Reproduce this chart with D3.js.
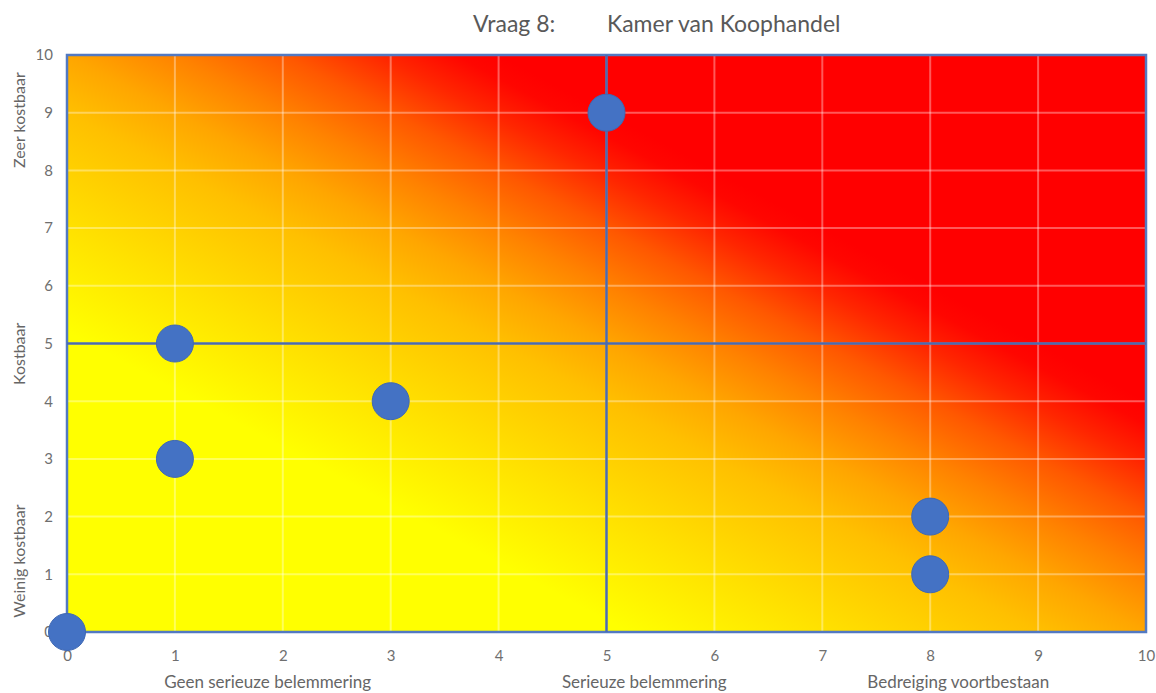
<!DOCTYPE html>
<html>
<head>
<meta charset="utf-8">
<script src="https://cdn.jsdelivr.net/npm/d3@7"></script>
<style>
  html, body { margin: 0; padding: 0; background: #ffffff; }
  svg { display: block; }
  text { font-family: Lato, "Open Sans", "Liberation Sans", sans-serif; }
</style>
</head>
<body>
<svg id="chart" width="1156" height="693"></svg>
<script>
// ---- data ----
const pointsX = [0, 1, 1, 3, 5, 8, 8];
const pointsY = [0, 5, 3, 4, 9, 2, 1];
const xTicks = [0, 1, 2, 3, 4, 5, 6, 7, 8, 9, 10];
const yTicks = [0, 1, 2, 3, 4, 5, 6, 7, 8, 9, 10];
const xCategoryLabels = ["Geen serieuze belemmering", "Serieuze belemmering", "Bedreiging voortbestaan"];
const xCategoryPos = [1.86, 5.35, 8.26];
const yCategoryLabels = ["Weinig kostbaar", "Kostbaar", "Zeer kostbaar"];
const yCategoryPos = [1.23, 4.82, 8.87];
const dividerX = [5];
const dividerY = [5];
const titleParts = ["Vraag 8:", "Kamer van Koophandel"];

// ---- layout ----
const svg = d3.select("#chart");
const plotL = 67, plotR = 1146, plotT = 55, plotB = 632;
const x = d3.scaleLinear().domain([0, 10]).range([plotL, plotR]);
const y = d3.scaleLinear().domain([0, 10]).range([plotB, plotT]);

// gradient: yellow (bottom-left) to red (top-right)
const gradStops = [
  [0.00, "#ffff00"], [0.26, "#ffff00"], [0.35, "#ffe200"], [0.45, "#ffc000"],
  [0.50, "#ffa600"], [0.55, "#ff8200"], [0.60, "#ff5800"], [0.645, "#ff2600"],
  [0.68, "#ff0600"], [0.70, "#ff0000"], [1.00, "#ff0000"]
];
const defs = svg.append("defs");
const grad = defs.append("linearGradient").attr("id", "heat")
  .attr("x1", 0).attr("y1", 1).attr("x2", 1).attr("y2", 0);
grad.selectAll("stop").data(gradStops).join("stop")
  .attr("offset", d => d[0]).attr("stop-color", d => d[1]);

svg.append("rect")
  .attr("x", x(0)).attr("y", y(10))
  .attr("width", x(10) - x(0)).attr("height", y(0) - y(10))
  .attr("fill", "url(#heat)");

// grid
const grid = svg.append("g").attr("stroke", "#ffffff").attr("stroke-opacity", 0.35).attr("stroke-width", 2);
grid.selectAll("line.v").data(xTicks.slice(1, -1)).join("line").attr("class", "v")
  .attr("x1", d => x(d)).attr("x2", d => x(d)).attr("y1", y(10)).attr("y2", y(0));
grid.selectAll("line.h").data(yTicks.slice(1, -1)).join("line").attr("class", "h")
  .attr("y1", d => y(d)).attr("y2", d => y(d)).attr("x1", x(0)).attr("x2", x(10));

// border
svg.append("rect")
  .attr("x", x(0)).attr("y", y(10))
  .attr("width", x(10) - x(0)).attr("height", y(0) - y(10))
  .attr("fill", "none").attr("stroke", "#5279c2").attr("stroke-width", 2.5);

// quadrant dividers
svg.selectAll("line.dx").data(dividerX).join("line").attr("class", "dx")
  .attr("x1", d => x(d)).attr("x2", d => x(d)).attr("y1", y(10)).attr("y2", y(0))
  .attr("stroke", "#4a6bb0").attr("stroke-width", 2.5);
svg.selectAll("line.dy").data(dividerY).join("line").attr("class", "dy")
  .attr("y1", d => y(d)).attr("y2", d => y(d)).attr("x1", x(0)).attr("x2", x(10))
  .attr("stroke", "#4a6bb0").attr("stroke-width", 2.5);

// axes (labels only)
const xAxis = svg.append("g").attr("transform", `translate(0,${plotB + 18})`)
  .call(d3.axisBottom(x).tickValues(xTicks).tickSize(0).tickPadding(0).tickFormat(d3.format("d")));
xAxis.select(".domain").remove();
xAxis.selectAll("text").attr("font-size", 15).attr("fill", "#6f6f6f").attr("dy", "0.71em")
  .style("font-family", "Lato, 'Open Sans', sans-serif");

const yAxis = svg.append("g").attr("transform", `translate(53,0)`)
  .call(d3.axisLeft(y).tickValues(yTicks).tickSize(0).tickPadding(0).tickFormat(d3.format("d")));
yAxis.select(".domain").remove();
yAxis.selectAll("text").attr("font-size", 15).attr("fill", "#6f6f6f")
  .style("font-family", "Lato, 'Open Sans', sans-serif");

// category labels
svg.selectAll("text.xcat").data(xCategoryLabels).join("text").attr("class", "xcat")
  .attr("x", (d, i) => x(xCategoryPos[i])).attr("y", 688)
  .attr("text-anchor", "middle").attr("font-size", 17).attr("fill", "#666666")
  .text(d => d);

svg.selectAll("text.ycat").data(yCategoryLabels).join("text").attr("class", "ycat")
  .attr("transform", (d, i) => `translate(25,${y(yCategoryPos[i])}) rotate(-90)`)
  .attr("text-anchor", "middle").attr("font-size", 16).attr("fill", "#666666")
  .text(d => d);

// title
svg.append("text").attr("x", 473).attr("y", 32).attr("font-size", 23).attr("fill", "#595959").text(titleParts[0]);
svg.append("text").attr("x", 607).attr("y", 32).attr("font-size", 23).attr("fill", "#595959").text(titleParts[1]);

// points
const pts = pointsX.map((v, i) => ({ x: v, y: pointsY[i] }));
svg.selectAll("circle.pt").data(pts).join("circle").attr("class", "pt")
  .attr("cx", d => x(d.x)).attr("cy", d => y(d.y)).attr("r", 18.5)
  .attr("fill", "#4472c4").attr("stroke", "#3f68b3").attr("stroke-width", 1);
</script>
</body>
</html>
